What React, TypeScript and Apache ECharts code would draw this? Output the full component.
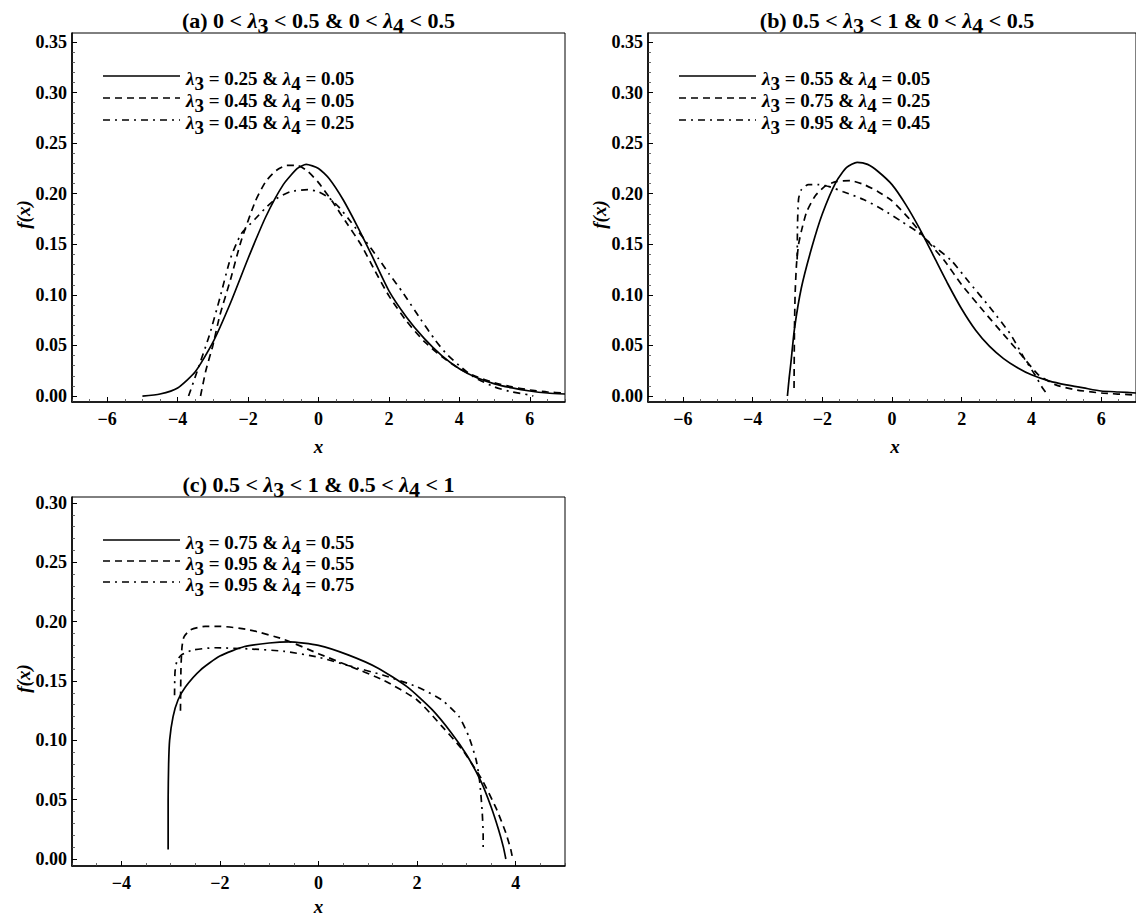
import React, { useEffect, useRef } from 'react';
import * as echarts from 'echarts';

const SERIF = '"Liberation Serif", "Times New Roman", serif';

// ---- tick labels ----
const xTicksAB = [-6, -4, -2, 0, 2, 4, 6];
const xTicksC = [-4, -2, 0, 2, 4];
const yTicksAB = [0, 0.05, 0.1, 0.15, 0.2, 0.25, 0.3, 0.35];
const yTicksC = [0, 0.05, 0.1, 0.15, 0.2, 0.25, 0.3];

// ---- panel (a): 0 < l3 < 0.5 & 0 < l4 < 0.5 ----
const aSolid = [
  [-5.0, 0], [-4.5, 0.002], [-4.0, 0.008], [-3.5, 0.024], [-3.0, 0.053], [-2.5, 0.092],
  [-2.0, 0.136], [-1.5, 0.177], [-1.0, 0.209], [-0.6, 0.225], [-0.35, 0.229], [0, 0.225],
  [0.3, 0.215], [0.7, 0.194], [1.1, 0.168], [1.5, 0.140], [2.0, 0.104], [2.5, 0.078],
  [3.0, 0.057], [3.5, 0.040], [4.0, 0.027], [4.5, 0.018], [5.0, 0.012], [5.5, 0.008],
  [6.0, 0.005], [6.5, 0.003], [7.0, 0.002],
];
const aDashed = [
  [-3.35, 0], [-3.2, 0.025], [-3.0, 0.05], [-2.8, 0.08], [-2.5, 0.115], [-2.2, 0.153],
  [-1.8, 0.192], [-1.5, 0.212], [-1.2, 0.223], [-0.9, 0.228], [-0.6, 0.228], [-0.3, 0.222],
  [0, 0.211], [0.4, 0.192], [0.8, 0.171], [1.2, 0.150], [1.6, 0.124], [2.0, 0.099],
  [2.5, 0.074], [3.0, 0.054], [3.5, 0.039], [4.0, 0.027], [4.5, 0.019], [5.0, 0.013],
  [5.5, 0.009], [6.0, 0.006], [6.5, 0.004], [7.0, 0.003],
];
const aDashDot = [
  [-3.69, 0], [-3.45, 0.024], [-3.1, 0.06], [-2.8, 0.097], [-2.5, 0.136], [-2.2, 0.160],
  [-1.8, 0.175], [-1.5, 0.186], [-1.2, 0.195], [-0.8, 0.202], [-0.3, 0.204], [0, 0.202],
  [0.3, 0.196], [0.6, 0.186], [0.9, 0.173], [1.3, 0.155], [1.7, 0.136], [2.0, 0.121],
  [2.4, 0.102], [2.9, 0.076], [3.3, 0.056], [3.6, 0.043], [4.0, 0.030], [4.4, 0.019],
  [5.0, 0.009], [5.5, 0.004], [6.0, 0.001], [6.1, 0],
];

// ---- panel (b): 0.5 < l3 < 1 & 0 < l4 < 0.5 ----
const bSolid = [
  [-3.0, 0], [-2.95, 0.018], [-2.9, 0.033], [-2.8, 0.066], [-2.6, 0.107], [-2.3, 0.147],
  [-2.0, 0.180], [-1.6, 0.212], [-1.3, 0.226], [-1.0, 0.231], [-0.7, 0.229], [-0.4, 0.222],
  [0, 0.209], [0.4, 0.189], [0.8, 0.165], [1.2, 0.138], [1.6, 0.111], [2.0, 0.086],
  [2.4, 0.065], [2.8, 0.049], [3.2, 0.037], [3.6, 0.028], [4.0, 0.021], [4.5, 0.015],
  [5.0, 0.011], [5.5, 0.008], [6.0, 0.005], [6.5, 0.004], [7.0, 0.003],
];
const bDashed = [
  [-2.81, 0.008], [-2.80, 0.06], [-2.78, 0.10], [-2.74, 0.13], [-2.68, 0.150], [-2.6, 0.163],
  [-2.45, 0.182], [-2.2, 0.198], [-1.9, 0.208], [-1.6, 0.212], [-1.2, 0.213], [-0.8, 0.209],
  [-0.4, 0.202], [0, 0.193], [0.5, 0.175], [0.9, 0.158], [1.5, 0.134], [2.0, 0.110],
  [2.6, 0.085], [3.2, 0.061], [3.7, 0.041], [4.2, 0.021], [4.7, 0.011], [5.3, 0.006],
  [6.0, 0.003], [7.0, 0.001],
];
const bDashDot = [
  [-2.72, 0.135], [-2.71, 0.17], [-2.68, 0.195], [-2.6, 0.204], [-2.4, 0.209], [-2.1, 0.209],
  [-1.8, 0.207], [-1.4, 0.202], [-0.8, 0.194], [-0.25, 0.184], [0.3, 0.172], [0.7, 0.163],
  [1.1, 0.151], [1.7, 0.134], [2.2, 0.113], [2.8, 0.088], [3.4, 0.061], [3.8, 0.037],
  [4.1, 0.021], [4.3, 0.009], [4.45, 0.002],
];

// ---- panel (c): 0.5 < l3 < 1 & 0.5 < l4 < 1 ----
const cSolid = [
  [-3.05, 0.008], [-3.05, 0.05], [-3.04, 0.08], [-3.02, 0.10], [-2.95, 0.12], [-2.85, 0.134],
  [-2.7, 0.145], [-2.4, 0.159], [-2.0, 0.171], [-1.5, 0.179], [-1.0, 0.182], [-0.6, 0.183],
  [0, 0.180], [0.6, 0.172], [1.2, 0.161], [1.8, 0.145], [2.3, 0.126], [2.7, 0.106],
  [3.0, 0.088], [3.3, 0.065], [3.5, 0.044], [3.65, 0.025], [3.75, 0.01], [3.8, 0],
];
const cDashed = [
  [-2.80, 0.125], [-2.79, 0.16], [-2.77, 0.178], [-2.73, 0.187], [-2.6, 0.193], [-2.3, 0.196],
  [-2.0, 0.196], [-1.4, 0.193], [-0.7, 0.185], [0, 0.173], [0.6, 0.163], [1.3, 0.151],
  [2.0, 0.134], [2.5, 0.112], [2.9, 0.093], [3.3, 0.068], [3.6, 0.043], [3.8, 0.022],
  [3.9, 0.008], [3.93, 0.002],
];
const cDashDot = [
  [-2.92, 0.138], [-2.91, 0.158], [-2.87, 0.167], [-2.78, 0.172], [-2.55, 0.176], [-2.1, 0.178],
  [-1.4, 0.177], [-0.7, 0.175], [0, 0.170], [0.6, 0.163], [1.3, 0.155], [2.0, 0.145],
  [2.5, 0.134], [2.85, 0.12], [3.05, 0.103], [3.2, 0.083], [3.27, 0.065], [3.32, 0.04],
  [3.34, 0.02], [3.34, 0.01],
];

// ---- legend / title texts ----
const aLegend = [['0.25', '0.05'], ['0.45', '0.05'], ['0.45', '0.25']];
const bLegend = [['0.55', '0.05'], ['0.75', '0.25'], ['0.95', '0.45']];
const cLegend = [['0.75', '0.55'], ['0.95', '0.55'], ['0.95', '0.75']];
const titleBounds = [['0', '0.5', '0', '0.5'], ['0.5', '1', '0', '0.5'], ['0.5', '1', '0.5', '1']];
const panelLetters = ['a', 'b', 'c'];

const DASH = [7, 5];
const DASHDOT = [7, 5, 2, 5];
const lineTypes: any[] = ['solid', DASH, DASHDOT];

function minorTicks(lo: number, hi: number, step: number, major: number) {
  const out: number[] = [];
  const n = Math.round((hi - lo) / step);
  for (let i = 0; i <= n; i++) {
    const v = +(lo + i * step).toFixed(4);
    const r = v / major;
    if (Math.abs(r - Math.round(r)) > 1e-6) out.push(v);
  }
  return out;
}

const panels = [
  { left: 72, top: 33, width: 493, height: 369, xMin: -7, xMax: 7, yMin: -0.0059, yMax: 0.3589,
    xTicks: xTicksAB, yTicks: yTicksAB, series: [aSolid, aDashed, aDashDot], legend: aLegend,
    titleY: 18, legendY: [76, 98, 120], yHi: 0.35, xNameY: 446 },
  { left: 648, top: 33, width: 493, height: 369, xMin: -7, xMax: 7, yMin: -0.0059, yMax: 0.3589,
    xTicks: xTicksAB, yTicks: yTicksAB, series: [bSolid, bDashed, bDashDot], legend: bLegend,
    titleY: 18, legendY: [76, 98, 120], yHi: 0.35, xNameY: 446 },
  { left: 72, top: 497, width: 493, height: 369, xMin: -5, xMax: 5, yMin: -0.0059, yMax: 0.305,
    xTicks: xTicksC, yTicks: yTicksC, series: [cSolid, cDashed, cDashDot], legend: cLegend,
    titleY: 482, legendY: [540, 561, 582], yHi: 0.30, xNameY: 906 },
];

const SH = 5;
function richStyles(fs: number) {
  const lh = fs;
  const base = { fontFamily: SERIF, fontWeight: 'bold', fontSize: fs, lineHeight: lh, verticalAlign: 'top', fill: '#000' };
  return {
    t: { ...base },
    l: { ...base, fontStyle: 'italic' },
    s: { ...base, padding: [SH, 0, 0, 0] },
  };
}

export default function App() {
  const ref = useRef<HTMLDivElement>(null);
  useEffect(() => {
    document.body.style.margin = '0';
    const chart = echarts.init(ref.current!, null, { renderer: 'svg' });

    const grid: any[] = [];
    const xAxis: any[] = [];
    const yAxis: any[] = [];
    const series: any[] = [];
    const graphic: any[] = [];

    panels.forEach((p, i) => {
      grid.push({ left: p.left, top: p.top, width: p.width, height: p.height, show: true,
        borderColor: '#000', borderWidth: 1, backgroundColor: 'transparent' });
      const labelStyle = { fontFamily: SERIF, fontWeight: 'bold', fontSize: 18, color: '#000' };
      xAxis.push({
        gridIndex: i, type: 'value', min: p.xMin, max: p.xMax, position: 'bottom',
        axisLine: { show: true, onZero: false, lineStyle: { color: '#000', width: 1.6 } },
        axisTick: { show: true, inside: true, length: 5, customValues: p.xTicks, lineStyle: { color: '#000', width: 1 } },
        axisLabel: { ...labelStyle, margin: 8, customValues: p.xTicks,
          formatter: (v: number) => (v < 0 ? '\u2212' + Math.abs(v) : String(v)) },
        splitLine: { show: false },
      });
      xAxis.push({
        gridIndex: i, type: 'value', min: p.xMin, max: p.xMax, position: 'bottom',
        axisLine: { show: false, onZero: false },
        axisTick: { show: true, inside: true, length: 3, customValues: minorTicks(p.xMin, p.xMax, 0.5, 2), lineStyle: { color: '#444', width: 0.8 } },
        axisLabel: { show: false }, splitLine: { show: false },
      });
      yAxis.push({
        gridIndex: i, type: 'value', min: p.yMin, max: p.yMax, position: 'left',
        axisLine: { show: true, onZero: false, lineStyle: { color: '#000', width: 1.6 } },
        axisTick: { show: true, inside: true, length: 5, customValues: p.yTicks, lineStyle: { color: '#000', width: 1 } },
        axisLabel: { ...labelStyle, margin: 5, customValues: p.yTicks, formatter: (v: number) => v.toFixed(2) },
        splitLine: { show: false },
      });
      yAxis.push({
        gridIndex: i, type: 'value', min: p.yMin, max: p.yMax, position: 'left',
        axisLine: { show: false, onZero: false },
        axisTick: { show: true, inside: true, length: 3, customValues: minorTicks(0, p.yHi, 0.01, 0.05), lineStyle: { color: '#444', width: 0.8 } },
        axisLabel: { show: false }, splitLine: { show: false },
      });
      p.series.forEach((d, k) => {
        series.push({
          type: 'line', xAxisIndex: 2 * i, yAxisIndex: 2 * i, data: d, showSymbol: false, symbol: 'none',
          smooth: 0.2, clip: true, silent: true,
          lineStyle: { color: '#000', width: 1.7, type: lineTypes[k] },
        });
      });

      const cx = p.left + p.width / 2;
      const tb = titleBounds[i];
      // title
      graphic.push({
        type: 'text', x: i === 1 ? 897 : cx, y: p.titleY + SH / 2,
        style: {
          text: `{t|(${panelLetters[i]}) ${tb[0]} < }{l|λ}{s|3}{t| < ${tb[1]} & ${tb[2]} < }{l|λ}{s|4}{t| < ${tb[3]}}`,
          rich: richStyles(22), align: 'center', verticalAlign: 'middle',
        },
      });
      // legend
      p.legend.forEach((lg, k) => {
        const ly = p.legendY[k];
        graphic.push({
          type: 'line', shape: { x1: p.left + 31, y1: ly, x2: p.left + 108, y2: ly },
          style: { stroke: '#000', lineWidth: 1.7, lineDash: k === 0 ? null : (k === 1 ? DASH : DASHDOT) },
        });
        graphic.push({
          type: 'text', x: p.left + 114, y: ly + SH / 2,
          style: {
            text: `{l|λ}{s|3}{t| = ${lg[0]} & }{l|λ}{s|4}{t| = ${lg[1]}}`,
            rich: richStyles(19), align: 'left', verticalAlign: 'middle',
          },
        });
      });
      // axis names
      graphic.push({
        type: 'text', x: p.left - 49, y: p.top + p.height / 2 - 3, rotation: Math.PI / 2,
        style: { text: 'f(x)', fontFamily: SERIF, fontStyle: 'italic', fontWeight: 'bold', fontSize: 19, fill: '#000',
          align: 'center', verticalAlign: 'middle' },
      });
      graphic.push({
        type: 'text', x: i === 1 ? 895 : cx, y: p.xNameY,
        style: { text: 'x', fontFamily: SERIF, fontStyle: 'italic', fontWeight: 'bold', fontSize: 19, fill: '#000',
          align: 'center', verticalAlign: 'middle' },
      });
    });

    chart.setOption({
      animation: false,
      backgroundColor: '#fff',
      grid, xAxis, yAxis, series, graphic,
    });
    return () => chart.dispose();
  }, []);
  return <div ref={ref} style={{ position: 'absolute', left: 0, top: 0, width: 1136, height: 916 }} />;
}
